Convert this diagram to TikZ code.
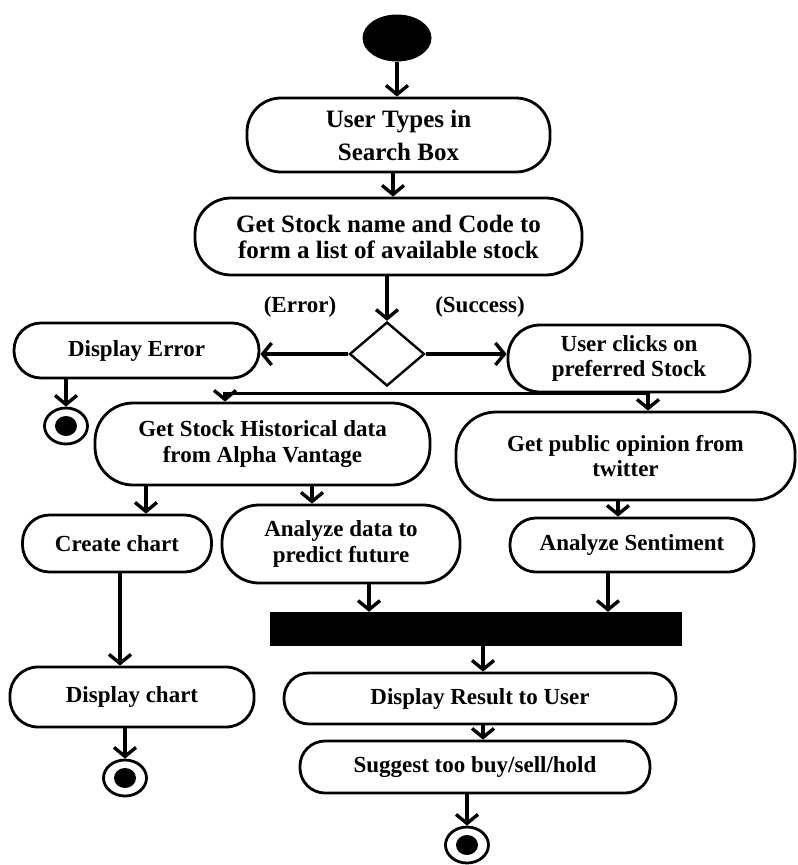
\documentclass[tikz,border=0pt]{standalone}
\usepackage{fontspec}
\setmainfont{Liberation Serif}
\usetikzlibrary{arrows.meta,shapes.geometric}
\begin{document}
\begin{tikzpicture}[x=1pt,y=-1pt,
  act/.style={draw, line width=2.8pt, rounded corners=25pt, inner sep=0pt, align=center,
    font=\fontsize{23}{25.5}\selectfont\bfseries, fill=white},
  lbl/.style={inner sep=0pt, font=\fontsize{23}{25}\selectfont\bfseries},
  arr/.style={line width=3.4pt, -{Straight Barb[length=9pt,width=22pt]}},
  startn/.style={ellipse, fill=black, minimum width=69pt, minimum height=47pt, inner sep=0pt},
  dec/.style={diamond, draw, line width=2.4pt, fill=white, minimum width=75pt, minimum height=64pt, inner sep=0pt},
  barn/.style={rectangle, fill=black, minimum width=412pt, minimum height=34pt, inner sep=0pt},
  fin/.style={ellipse, draw, line width=2.8pt, fill=white, minimum width=43pt, minimum height=36pt, inner sep=0pt},
  findot/.style={ellipse, fill=black, minimum width=22pt, minimum height=20pt, inner sep=0pt}
]
\useasboundingbox (0,0) rectangle (798,865);

% column coordinates
\coordinate (cA) at (393,0);
\coordinate (cF) at (648,0);
\coordinate (cG) at (225,0);
\coordinate (c146) at (146,0);
\coordinate (c312) at (312,0);
\coordinate (c618) at (618,0);
\coordinate (c369) at (369,0);
\coordinate (c608) at (608,0);
\coordinate (c120) at (120,0);
\coordinate (c483) at (483,0);

% nodes
\node[startn] (start) at (397,38) {};
\node[act, minimum width=303pt, minimum height=74pt, rounded corners=34pt,
  font=\fontsize{25}{33}\selectfont\bfseries] (n1) at (398.5,135) {User Types in\\Search Box};
\node[act, minimum width=387pt, minimum height=77pt, rounded corners=36pt,
  font=\fontsize{25}{26}\selectfont\bfseries] (n2) at (388.5,236.5) {Get Stock name and Code to\\form a list of available stock};

\node[lbl] (lerr) at (300,307) {(Error)};
\node[lbl] (lsuc) at (480,307) {(Success)};

\node[dec] (dia) at (387,354) {};
\node[act, minimum width=245pt, minimum height=55pt, rounded corners=27pt] (de) at (136.5,350.5) {Display Error};
\node[act, minimum width=242pt, minimum height=67pt, rounded corners=32pt] (uc) at (629,358.5) {User clicks on\\preferred Stock};

\node[fin] (ef1) at (66,426) {};
\node[findot] (ef1d) at (66,426) {};

\node[act, minimum width=335pt, minimum height=82pt, rounded corners=38pt] (gsh) at (262.5,444) {Get Stock Historical data\\from Alpha Vantage};
\node[act, minimum width=339pt, minimum height=88pt, rounded corners=40pt] (gpo) at (625.5,456) {Get public opinion from\\twitter};

\node[act, minimum width=189pt, minimum height=57pt, rounded corners=27pt] (cc) at (117,543.5) {Create chart};
\node[act, minimum width=238pt, minimum height=78pt, rounded corners=37pt] (ad) at (341,544) {Analyze data to\\predict future};
\node[act, minimum width=244pt, minimum height=54pt, rounded corners=26pt] (as) at (632,545) {Analyze Sentiment};

\node[barn] (bar) at (476,629) {};

\node[act, minimum width=244pt, minimum height=60pt, rounded corners=28pt] (dc) at (132,697) {Display chart};
\node[act, minimum width=392pt, minimum height=51pt, rounded corners=25pt] (dr) at (480,698.5) {Display Result to User};
\node[act, minimum width=350pt, minimum height=52pt, rounded corners=25pt] (sg) at (475,767) {Suggest too buy/sell/hold};

\node[fin] (ef2) at (125,778) {};
\node[findot] (ef2d) at (125,778) {};
\node[fin] (ef3) at (467,845) {};
\node[findot] (ef3d) at (467,845) {};

% connectors
\draw[arr] (start.south) -- (start.south |- n1.north);
\draw[arr] (n1.south -| cA) -- (n2.north -| cA);
\draw[arr] (n2.south -| dia.north) -- (dia.north);
\draw[arr] (dia.west) -- (dia.west -| de.east);
\draw[arr] (dia.east) -- (dia.east -| uc.west);
\draw[arr] (de.south -| ef1.north) -- (ef1.north);
\draw[arr] (uc.south -| cF) -- (gpo.north -| cF);
\draw[arr] (uc.south -| cF) -| (gsh.north -| cG);
\draw[arr] (gsh.south -| c146) -- (cc.north -| c146);
\draw[arr] (gsh.south -| c312) -- (ad.north -| c312);
\draw[arr] (gpo.south -| c618) -- (as.north -| c618);
\draw[arr] (ad.south -| c369) -- (bar.north -| c369);
\draw[arr] (as.south -| c608) -- (bar.north -| c608);
\draw[arr] (cc.south -| c120) -- (dc.north -| c120);
\draw[arr] (bar.south -| c483) -- (dr.north -| c483);
\draw[arr] (dc.south -| ef2.north) -- (ef2.north);
\draw[arr] (dr.south -| c483) -- (sg.north -| c483);
\draw[arr] (sg.south -| ef3.north) -- (ef3.north);
\end{tikzpicture}
\end{document}
